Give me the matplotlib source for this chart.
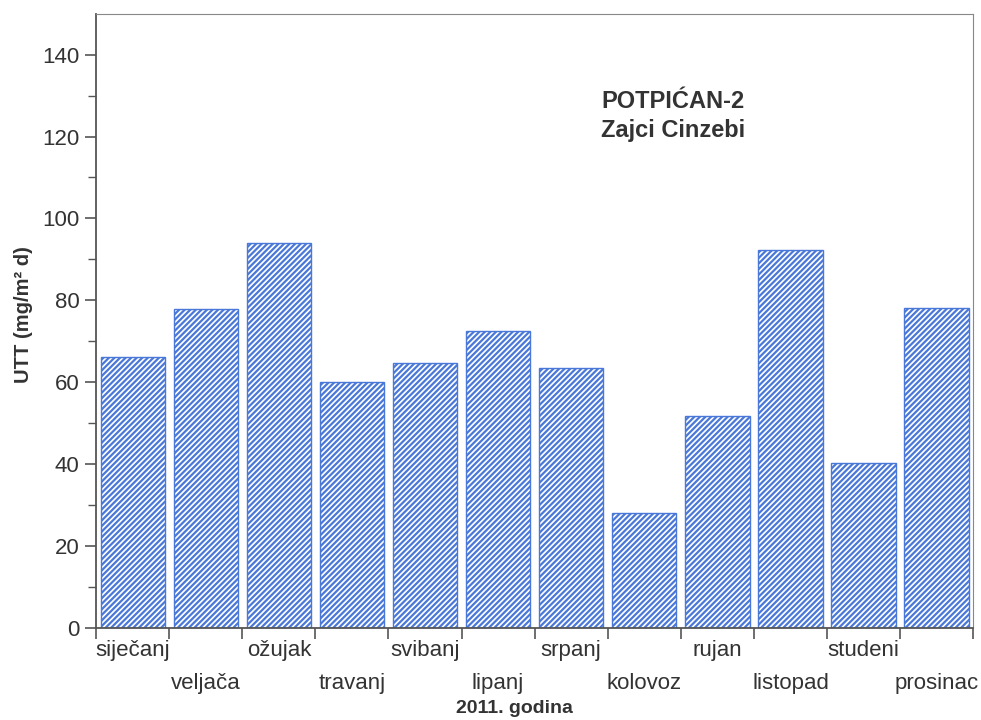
import numpy as np
import matplotlib.pyplot as plt

plt.rcParams['font.family'] = ['Liberation Sans', 'DejaVu Sans']
plt.rcParams['hatch.color'] = '#3f6fd0'
plt.rcParams['hatch.linewidth'] = 1.6

# Data
months = ['siječanj', 'veljača', 'ožujak', 'travanj', 'svibanj', 'lipanj',
          'srpanj', 'kolovoz', 'rujan', 'listopad', 'studeni', 'prosinac']
utt = [66.1, 77.8, 94.1, 60.0, 64.6, 72.4, 63.4, 28.0, 51.7, 92.4, 40.2, 78.0]

text_col = '#333333'
axis_col = '#555555'

fig = plt.figure(figsize=(9.81, 7.2), dpi=100)
ax = fig.add_axes([0.098, 0.128, 0.894, 0.853])

x = np.arange(len(months)) + 0.5
ax.bar(x, utt, width=0.88, color='white', edgecolor='#4a78d8',
       linewidth=1.0, hatch='//////')

ax.set_xlim(0, 12)
ax.set_ylim(0, 150)

# major ticks at bar boundaries, labels on minor ticks at centres
ax.set_xticks(np.arange(0, 13))
ax.set_xticklabels([])
ax.set_xticks(x, minor=True)
labels = [m if i % 2 == 0 else '\n' + m for i, m in enumerate(months)]
ax.set_xticklabels(labels, minor=True, fontsize=16, color=text_col,
                   linespacing=1.75)
ax.tick_params(axis='x', which='minor', length=0, pad=9)
ax.tick_params(axis='x', which='major', length=8, width=1.2, color=axis_col)

ax.set_yticks(np.arange(0, 141, 20))
ax.set_yticks(np.arange(10, 150, 20), minor=True)
ax.tick_params(axis='y', which='major', length=8, width=1.2, color=axis_col,
               labelsize=16, labelcolor=text_col, pad=4)
ax.tick_params(axis='y', which='minor', length=6, width=1.0, color=axis_col)

for side in ['left', 'bottom']:
    ax.spines[side].set_color(axis_col)
    ax.spines[side].set_linewidth(1.3)
for side in ['top', 'right']:
    ax.spines[side].set_color('#888888')
    ax.spines[side].set_linewidth(0.8)

ax.set_ylabel('UTT (mg/m² d)', fontsize=14.5, fontweight='bold', color=text_col)
ax.yaxis.set_label_coords(-0.072, 0.51)
ax.set_xlabel('2011. godina', fontsize=14, fontweight='bold', color=text_col,
              labelpad=0)
ax.xaxis.set_label_coords(0.477, -0.118)

ax.text(0.658, 0.833, 'POTPIĆAN-2\nZajci Cinzebi', transform=ax.transAxes,
        ha='center', va='center', fontsize=17, fontweight='bold',
        color=text_col, linespacing=1.35)

fig.savefig('out.png', dpi=100)
